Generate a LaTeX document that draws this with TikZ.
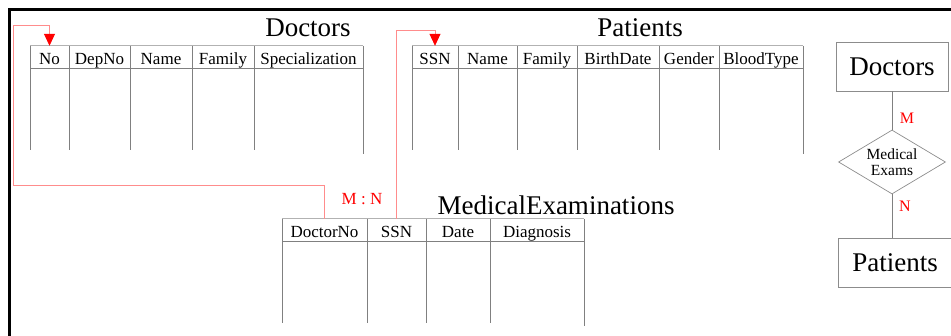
\documentclass[tikz,border=0pt]{standalone}
\usepackage{fontspec}
\setmainfont{Liberation Serif}
\usetikzlibrary{arrows.meta}
\usetikzlibrary{shapes.geometric}

\begin{document}
\begin{tikzpicture}[x=1pt, y=-1pt,
  hdr/.style={minimum height=22pt, inner sep=0pt, text height=18pt, text depth=2pt,
    font=\fontsize{17}{17}\selectfont},
  tbltitle/.style={inner sep=0pt, font=\fontsize{27}{27}\selectfont},
  gridline/.style={draw=black!50, line width=0.7pt},
  topline/.style={draw=black!30, line width=1pt},
  fk/.style={draw=red!45, line width=0.8pt},
  fkarrow/.style={fk, -{Triangle[length=12pt, width=11pt, color=red]}},
  card/.style={text=red, inner sep=0pt, font=\fontsize{16}{16}\selectfont},
  entity/.style={draw=black!45, line width=0.7pt, minimum height=49pt, inner sep=0pt,
    font=\fontsize{27}{27}\selectfont},
  relation/.style={diamond, draw=black!45, line width=0.7pt, aspect=1.67, inner sep=0pt,
    minimum width=107pt, minimum height=64pt, align=center,
    font=\fontsize{15.5}{16}\selectfont}]

  \useasboundingbox (0,0) rectangle (951,336);

  % outer frame
  \draw [line width=3pt] (9,336) -- (9,9.3) -- (960,9.3);

  % table Doctors
  \node [tbltitle] (docTitle) at (308,28) {Doctors};
  \foreach \l/\r/\t/\n in {30/69/No/docNo, 69/130/DepNo/docDep, 130/192/Name/docName,
      192/254/Family/docFam, 254/363/Specialization/docSpec}
    \node [hdr, minimum width={(\r-\l)*1pt}] (\n) at ({(\l+\r)/2},57) {\t};
  \draw [topline] (30,46) -- (363,46);
  \draw [gridline] (30,68) -- (363,68);
  \foreach \x in {30,69,130,192,254}
    \draw [gridline] (\x,46) -- (\x,150);
  \draw [gridline] (363,46) -- (363,154);

  % table Patients
  \node [tbltitle] (patTitle) at (640,28) {Patients};
  \foreach \l/\r/\t/\n in {412/458/SSN/patSSN, 458/517/Name/patName, 517/577/Family/patFam,
      577/659/BirthDate/patBirth, 659/719/Gender/patGen, 719/803/BloodType/patBlood}
    \node [hdr, minimum width={(\r-\l)*1pt}] (\n) at ({(\l+\r)/2},57) {\t};
  \draw [topline] (412,46) -- (803,46);
  \draw [gridline] (412,68) -- (803,68);
  \foreach \x in {412,458,517,577,659,719}
    \draw [gridline] (\x,46) -- (\x,150);
  \draw [gridline] (803,46) -- (803,154);

  % table MedicalExaminations
  \node [tbltitle] (meTitle) at (556,205) {MedicalExaminations};
  \foreach \l/\r/\t/\n in {282/367/DoctorNo/meDoc, 367/426/SSN/meSSN,
      426/490/Date/meDate, 490/584/Diagnosis/meDiag}
    \node [hdr, minimum width={(\r-\l)*1pt}] (\n) at ({(\l+\r)/2},230) {\t};
  \draw [topline] (282,219) -- (584,219);
  \draw [gridline] (282,241) -- (584,241);
  \foreach \x in {282,367,426,490}
    \draw [gridline] (\x,219) -- (\x,323);
  \draw [gridline] (584,219) -- (584,326);

  % foreign keys
  \coordinate (docTurnA) at (13,185);
  \coordinate (docTurnB) at (13,25);
  \draw [fkarrow] (meDoc.north) |- (docTurnA) -- (docTurnB) -| (docNo.north);
  \draw [fkarrow] (meSSN.north) -- ++(0,-188) -| (patSSN.north);
  \node [card, font=\fontsize{17}{17}\selectfont] (mn) at (362,199) {M : N};

  % ER view
  \node [entity, minimum width=112pt] (erDoc) at (892,66.5) {Doctors};
  \node [relation] (erRel) at (892,162) {Medical\\Exams};
  \node [entity, minimum width=114pt] (erPat) at (895,263) {Patients};
  \draw [gridline] (erDoc) -- (erRel);
  \draw [gridline] (erRel) -- (erRel |- erPat.north);
  \node [card] (cardM) at (907,118) {M};
  \node [card] (cardN) at (905,206) {N};

\end{tikzpicture}
\end{document}
